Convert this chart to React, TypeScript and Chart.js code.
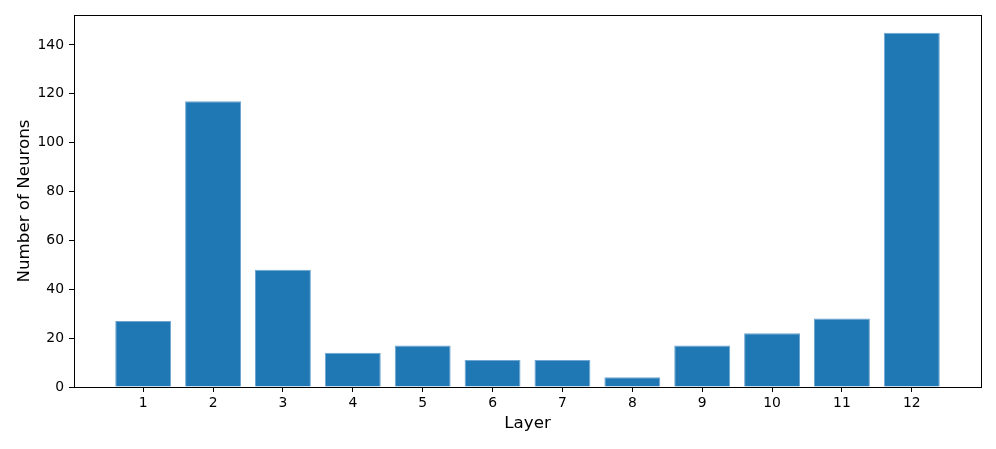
import React, { useEffect, useRef } from "react";
import { Chart, registerables } from "chart.js";

Chart.register(...registerables);

const layers = [1, 2, 3, 4, 5, 6, 7, 8, 9, 10, 11, 12];
const neuronCounts = [27, 117, 48, 14, 17, 11, 11, 4, 17, 22, 28, 145];
const yTicks = [0, 20, 40, 60, 80, 100, 120, 140];

const FONT = "'DejaVu Sans', sans-serif";

const framePlugin = {
  id: "frame",
  afterDraw(chart: any) {
    const { ctx, chartArea } = chart;
    ctx.save();
    ctx.strokeStyle = "#000";
    ctx.lineWidth = 1;
    const l = Math.round(chartArea.left) + 0.5;
    const t = Math.round(chartArea.top) + 0.5;
    const r = Math.round(chartArea.right) + 0.5;
    const b = Math.round(chartArea.bottom) + 0.5;
    ctx.strokeRect(l, t, r - l, b - t);
    ctx.restore();
  },
};

export default function App() {
  const ref = useRef<HTMLCanvasElement | null>(null);

  useEffect(() => {
    document.body.style.margin = "0";
    const canvas = ref.current;
    if (!canvas) return;
    const chart = new Chart(canvas, {
      type: "bar",
      data: {
        datasets: [
          {
            data: layers.map((l, i) => ({ x: l, y: neuronCounts[i] })),
            backgroundColor: "#1f77b4",
            borderColor: "#6ea6d1",
            borderWidth: 1,
            barPercentage: 0.8,
            categoryPercentage: 1,
          },
        ],
      },
      options: {
        animation: false,
        responsive: false,
        maintainAspectRatio: false,
        layout: { padding: { top: 15, right: 15, left: 0, bottom: 0 } },
        plugins: {
          legend: { display: false },
          tooltip: { enabled: false },
        },
        scales: {
          x: {
            type: "linear",
            min: 0.01,
            max: 12.99,
            offset: false,
            grid: {
              offset: false,
              drawOnChartArea: false,
              drawTicks: true,
              tickLength: 5,
              color: "#000",
            },
            border: { display: true, color: "#000" },
            ticks: {
              color: "#000",
              font: { family: FONT, size: 13.9 },
              padding: 3,
              maxRotation: 0,
              autoSkip: false,
            },
            afterBuildTicks: (scale: any) => {
              scale.ticks = layers.map((v) => ({ value: v }));
            },
            afterFit: (scale: any) => {
              scale.height = 62;
            },
            title: {
              display: true,
              text: "Layer",
              color: "#000",
              font: { family: FONT, size: 16.7 },
              padding: { top: 0, bottom: 15 },
            },
          },
          y: {
            min: 0,
            max: 152.25,
            grid: {
              drawOnChartArea: false,
              drawTicks: true,
              tickLength: 5,
              color: "#000",
            },
            border: { display: true, color: "#000" },
            ticks: {
              color: "#000",
              font: { family: FONT, size: 13.9 },
              padding: 5,
            },
            afterBuildTicks: (scale: any) => {
              scale.ticks = yTicks.map((v) => ({ value: v }));
            },
            afterFit: (scale: any) => {
              scale.width = 74;
            },
            title: {
              display: true,
              text: "Number of Neurons",
              color: "#000",
              font: { family: FONT, size: 16.7 },
              padding: { top: 15, bottom: 0 },
            },
          },
        },
      },
      plugins: [framePlugin],
    });
    return () => chart.destroy();
  }, []);

  return (
    <div style={{ width: 996, height: 449, background: "#fff" }}>
      <canvas ref={ref} width={996} height={449} style={{ display: "block" }} />
    </div>
  );
}
